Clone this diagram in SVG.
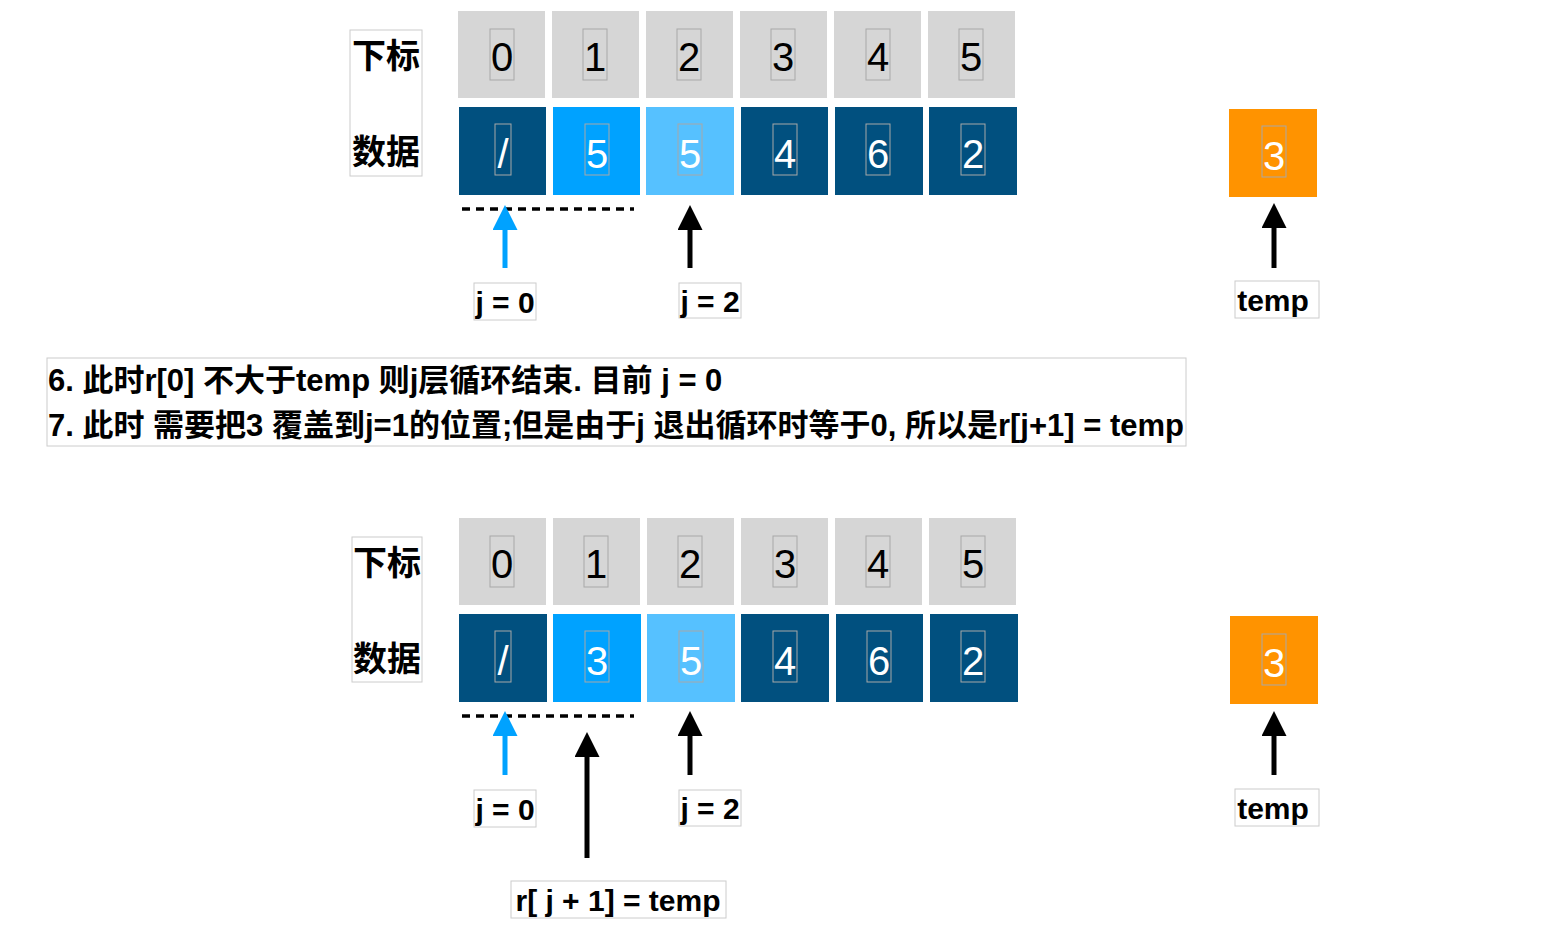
<svg xmlns="http://www.w3.org/2000/svg" width="1550" height="932" viewBox="0 0 1550 932">
<defs>
<style>
.idx{fill:#d6d6d6}
.dk{fill:#01507f}
.br{fill:#00a2ff}
.lt{fill:#56c1ff}
.or{fill:#ff9300}
.ib{fill:none;stroke:#a8a8a8;stroke-width:1}
.lb{fill:#fff;stroke:#cccccc;stroke-width:1}
.num{font-family:"Liberation Sans","Noto Sans CJK SC",sans-serif;font-size:40px;text-anchor:middle}
.w{fill:#fff}
.k{fill:#000}
.cjk{font-family:"Liberation Sans","Noto Sans CJK SC",sans-serif;font-size:34px;font-weight:bold;fill:#000}
.lab{font-family:"Liberation Sans","Noto Sans CJK SC",sans-serif;font-size:30px;font-weight:bold;fill:#000;text-anchor:middle}
.note{font-family:"Liberation Sans","Noto Sans CJK SC",sans-serif;font-size:31px;font-weight:bold;fill:#000}
.dash{stroke:#000;stroke-width:3.5;stroke-dasharray:8 6;fill:none}
.ak{stroke:#000;stroke-width:5;fill:none}
.ab{stroke:#00a2ff;stroke-width:5;fill:none}
</style>
<marker id="hk" viewBox="0 0 25 25" refX="0" refY="12.5" markerWidth="25" markerHeight="25" markerUnits="userSpaceOnUse" orient="auto"><path d="M0,0 L25,12.5 L0,25 z" fill="#000"/></marker>
<marker id="hb" viewBox="0 0 25 25" refX="0" refY="12.5" markerWidth="25" markerHeight="25" markerUnits="userSpaceOnUse" orient="auto"><path d="M0,0 L25,12.5 L0,25 z" fill="#00a2ff"/></marker>
</defs>
<rect width="1550" height="932" fill="#fff"/>

<!-- TOP -->
<g id="top-labels">
<rect class="lb" x="350" y="30" width="72" height="146"/>
<text class="cjk" x="352" y="68">下标</text>
<text class="cjk" x="352" y="164">数据</text>
</g>
<g id="top-index">
<rect class="idx" x="458" y="11" width="87" height="87"/><rect class="ib" x="490" y="29" width="24" height="51"/><text class="num k" x="502" y="71">0</text>
<rect class="idx" x="552" y="11" width="87" height="87"/><rect class="ib" x="583" y="29" width="24" height="51"/><text class="num k" x="595" y="71">1</text>
<rect class="idx" x="646" y="11" width="87" height="87"/><rect class="ib" x="677" y="29" width="24" height="51"/><text class="num k" x="689" y="71">2</text>
<rect class="idx" x="740" y="11" width="87" height="87"/><rect class="ib" x="771" y="29" width="24" height="51"/><text class="num k" x="783" y="71">3</text>
<rect class="idx" x="834" y="11" width="87" height="87"/><rect class="ib" x="866" y="29" width="24" height="51"/><text class="num k" x="878" y="71">4</text>
<rect class="idx" x="928" y="11" width="87" height="87"/><rect class="ib" x="959" y="29" width="24" height="51"/><text class="num k" x="971" y="71">5</text>
</g>
<g id="top-data">
<rect class="dk" x="459" y="107" width="87" height="88"/><rect class="ib" x="495" y="124" width="16" height="51"/><text class="num w" x="503" y="168">/</text>
<rect class="br" x="553" y="107" width="87" height="88"/><rect class="ib" x="585" y="124" width="24" height="51"/><text class="num w" x="597" y="168">5</text>
<rect class="lt" x="646" y="107" width="88" height="88"/><rect class="ib" x="678" y="124" width="24" height="51"/><text class="num w" x="690" y="168">5</text>
<rect class="dk" x="741" y="107" width="87" height="88"/><rect class="ib" x="773" y="124" width="24" height="51"/><text class="num w" x="785" y="168">4</text>
<rect class="dk" x="835" y="107" width="88" height="88"/><rect class="ib" x="866" y="124" width="24" height="51"/><text class="num w" x="878" y="168">6</text>
<rect class="dk" x="929" y="107" width="88" height="88"/><rect class="ib" x="961" y="124" width="24" height="51"/><text class="num w" x="973" y="168">2</text>
</g>
<g id="top-temp">
<rect class="or" x="1229" y="109" width="88" height="88"/><rect class="ib" x="1262" y="126" width="24" height="51"/><text class="num w" x="1274" y="170">3</text>
</g>
<g id="top-lbl-j0"><rect class="lb" x="474" y="283" width="62" height="37"/><text class="lab" x="505" y="313">j = 0</text></g>
<g id="top-lbl-j2"><rect class="lb" x="679" y="283" width="62" height="35"/><text class="lab" x="710" y="312">j = 2</text></g>
<g id="top-lbl-temp"><rect class="lb" x="1235" y="281" width="84" height="37"/><text class="lab" x="1273" y="311">temp</text></g>

<!-- NOTE -->
<g id="note">
<rect class="lb" x="47" y="358" width="1139" height="88"/>
<text class="note" x="48" y="391">6. 此时r[0] 不大于temp 则j层循环结束. 目前 j = 0</text>
<text class="note" x="48" y="436">7. 此时 需要把3 覆盖到j=1的位置;但是由于j 退出循环时等于0, 所以是r[j+1] = temp</text>
</g>

<!-- BOTTOM -->
<g id="bot-labels">
<rect class="lb" x="352" y="537" width="70" height="145"/>
<text class="cjk" x="353" y="575">下标</text>
<text class="cjk" x="353" y="671">数据</text>
</g>
<g id="bot-index">
<rect class="idx" x="459" y="518" width="87" height="87"/><rect class="ib" x="490" y="536" width="24" height="51"/><text class="num k" x="502" y="578">0</text>
<rect class="idx" x="553" y="518" width="87" height="87"/><rect class="ib" x="584" y="536" width="24" height="51"/><text class="num k" x="596" y="578">1</text>
<rect class="idx" x="647" y="518" width="87" height="87"/><rect class="ib" x="678" y="536" width="24" height="51"/><text class="num k" x="690" y="578">2</text>
<rect class="idx" x="741" y="518" width="87" height="87"/><rect class="ib" x="773" y="536" width="24" height="51"/><text class="num k" x="785" y="578">3</text>
<rect class="idx" x="835" y="518" width="87" height="87"/><rect class="ib" x="866" y="536" width="24" height="51"/><text class="num k" x="878" y="578">4</text>
<rect class="idx" x="929" y="518" width="87" height="87"/><rect class="ib" x="961" y="536" width="24" height="51"/><text class="num k" x="973" y="578">5</text>
</g>
<g id="bot-data">
<rect class="dk" x="459" y="614" width="88" height="88"/><rect class="ib" x="495" y="631" width="16" height="51"/><text class="num w" x="503" y="675">/</text>
<rect class="br" x="553" y="614" width="88" height="88"/><rect class="ib" x="585" y="631" width="24" height="51"/><text class="num w" x="597" y="675">3</text>
<rect class="lt" x="647" y="614" width="88" height="88"/><rect class="ib" x="679" y="631" width="24" height="51"/><text class="num w" x="691" y="675">5</text>
<rect class="dk" x="741" y="614" width="88" height="88"/><rect class="ib" x="773" y="631" width="24" height="51"/><text class="num w" x="785" y="675">4</text>
<rect class="dk" x="836" y="614" width="87" height="88"/><rect class="ib" x="867" y="631" width="24" height="51"/><text class="num w" x="879" y="675">6</text>
<rect class="dk" x="930" y="614" width="88" height="88"/><rect class="ib" x="961" y="631" width="24" height="51"/><text class="num w" x="973" y="675">2</text>
</g>
<g id="bot-temp">
<rect class="or" x="1230" y="616" width="88" height="88"/><rect class="ib" x="1262" y="634" width="24" height="51"/><text class="num w" x="1274" y="677">3</text>
</g>
<g id="bot-lbl-j0"><rect class="lb" x="474" y="790" width="62" height="37"/><text class="lab" x="505" y="820">j = 0</text></g>
<g id="bot-lbl-j2"><rect class="lb" x="679" y="790" width="62" height="36"/><text class="lab" x="710" y="819">j = 2</text></g>
<g id="bot-lbl-temp"><rect class="lb" x="1235" y="789" width="84" height="37"/><text class="lab" x="1273" y="819">temp</text></g>
<g id="bot-lbl-r"><rect class="lb" x="511" y="881" width="215" height="37"/><text class="lab" x="618" y="911">r[ j + 1] = temp</text></g>

<g id="connectors">
<line class="dash" x1="462" y1="209" x2="634" y2="209"/>
<line class="ab" x1="505" y1="268" x2="505" y2="230" marker-end="url(#hb)"/>
<line class="ak" x1="690" y1="268" x2="690" y2="230" marker-end="url(#hk)"/>
<line class="ak" x1="1274" y1="268" x2="1274" y2="228" marker-end="url(#hk)"/>
<line class="dash" x1="462" y1="716" x2="634" y2="716"/>
<line class="ab" x1="505" y1="775" x2="505" y2="736" marker-end="url(#hb)"/>
<line class="ak" x1="690" y1="775" x2="690" y2="736" marker-end="url(#hk)"/>
<line class="ak" x1="587" y1="858" x2="587" y2="757" marker-end="url(#hk)"/>
<line class="ak" x1="1274" y1="775" x2="1274" y2="736" marker-end="url(#hk)"/>
</g>
</svg>
